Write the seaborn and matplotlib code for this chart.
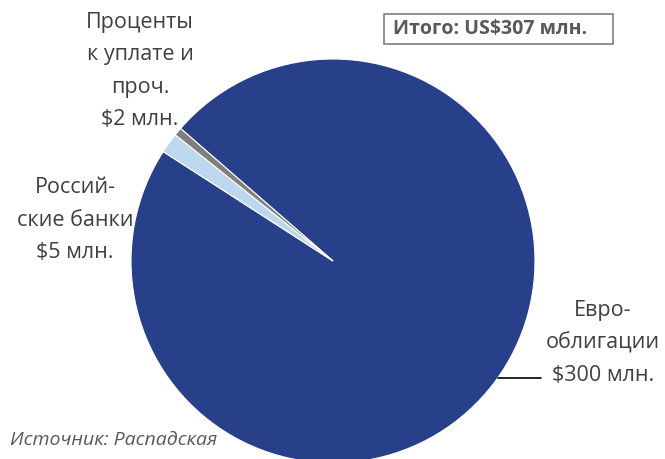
import matplotlib
matplotlib.use("Agg")
import matplotlib.pyplot as plt
import seaborn as sns
from matplotlib.patches import Rectangle

sns.set_theme(style="white")
plt.rcParams['font.family'] = ['Open Sans', 'DejaVu Sans']

categories = ["Еврооблигации", "Российские банки", "Проценты к уплате и проч."]
values = [300, 5, 2]
labels = ["Евро-\nоблигации\n$300 млн.", "Россий-\nские банки\n$5 млн.", "Проценты\nк уплате и\nпроч.\n$2 млн."]
colors = ["#283F89", "#BDD7EE", "#7F7F7F"]
total_text = "Итого: US$307 млн."
source_text = "Источник: Распадская"

W, H = 665, 459
fig = plt.figure(figsize=(W / 100, H / 100), dpi=100)
ax = fig.add_axes([0, 0, 1, 1])

ax.pie(values, colors=colors, startangle=139, counterclock=False,
       center=(333, H - 261), radius=202,
       wedgeprops=dict(edgecolor="white", linewidth=0.8))
ax.set_xlim(0, W)
ax.set_ylim(0, H)
ax.set_aspect("equal")
ax.axis("off")

txt_color = "#404040"
fs = 15.5
ls = 1.72
ax.text(603, H - 343, labels[0], ha="center", va="center", fontsize=fs,
        color=txt_color, linespacing=ls)
ax.text(75, H - 220, labels[1], ha="center", va="center", fontsize=fs,
        color=txt_color, linespacing=ls)
ax.text(140, H - 71, labels[2], ha="center", va="center", fontsize=fs,
        color=txt_color, linespacing=ls)

# leader line for Eurobonds
ax.plot([498, 541], [H - 378, H - 378], color="black", lw=1.2)

# total box
ax.add_patch(Rectangle((384, H - 44), 229, 30, fill=False, edgecolor="#7F7F7F", lw=1.2))
ax.text(393, H - 29, total_text, ha="left", va="center", fontsize=14,
        fontweight="bold", color="#595959")

ax.text(10, H - 440, source_text, ha="left", va="center", fontsize=14,
        style="italic", color="#595959")

fig.savefig("out.png", dpi=100)
